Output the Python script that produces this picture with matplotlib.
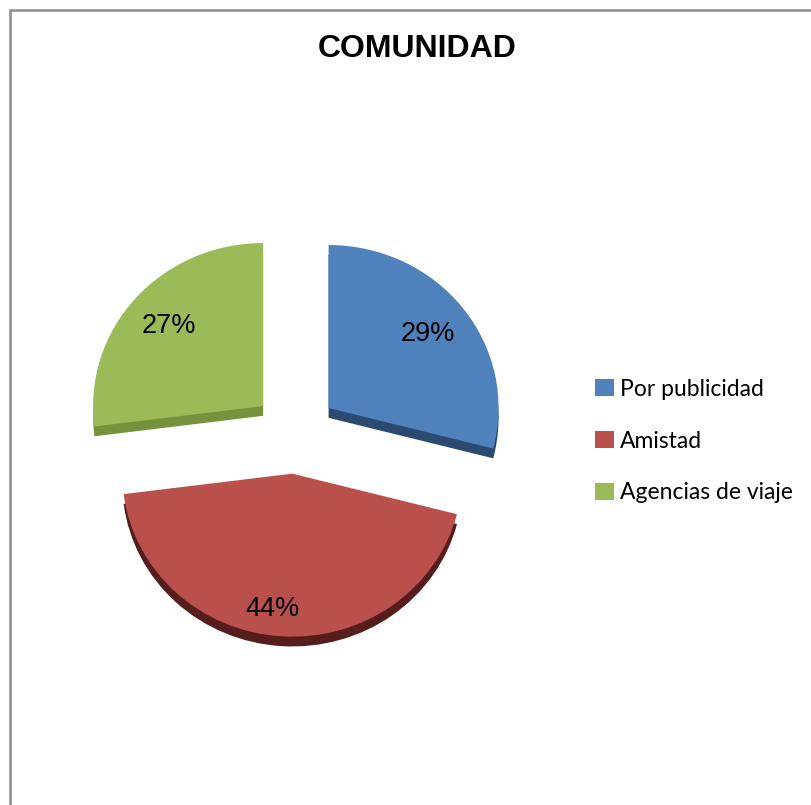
import matplotlib
matplotlib.use('Agg')
import matplotlib.pyplot as plt
from matplotlib.patches import Rectangle, Patch

# Datos
categorias = ['Por publicidad', 'Amistad', 'Agencias de viaje']
porcentajes = [29, 44, 27]
colores = ['#4f81bd', '#ba504c', '#9bbb59']
colores_lado = ['#2c4a70', '#551d1b', '#76923c']
titulo = 'COMUNIDAD'

W, H = 811, 805
fig = plt.figure(figsize=(W / 100, H / 100), dpi=100)
fig.patch.set_facecolor('white')

# marco del gráfico (solo se ven los lados superior e izquierdo)
fig.patches.append(Rectangle((10 / W, -0.5), 1.5, 1.5 - 10 / H, transform=fig.transFigure,
                             fill=False, edgecolor='#8c8c8c', linewidth=1.8))

# ejes: 1 unidad = 170 px en x, 163 px en y (pastel ligeramente inclinado)
cx, cy, rx, ry = 295, 433, 170, 163
ax = fig.add_axes([(cx - 1.5 * rx) / W, (H - cy - 1.5 * ry) / H, 3 * rx / W, 3 * ry / H])

explode = [0.25, 0.25, 0.25]

# lado "3D": el mismo pastel más oscuro desplazado hacia abajo
ax.pie(porcentajes, explode=explode, colors=colores_lado, startangle=90,
       counterclock=False, center=(0, -0.06), wedgeprops=dict(linewidth=0))

wedges, textos, autotextos = ax.pie(
    porcentajes, explode=explode, colors=colores, startangle=90, counterclock=False,
    autopct='%1.0f%%', pctdistance=0.74, wedgeprops=dict(linewidth=0),
    textprops=dict(fontsize=19.5, family='Liberation Sans', color='black'))

# la etiqueta de "Amistad" queda algo más abajo y a la izquierda
x, y = autotextos[1].get_position()
autotextos[1].set_position((x - 0.07, y - 0.09))

ax.set_aspect('auto')
ax.set_xlim(-1.5, 1.5)
ax.set_ylim(-1.5, 1.5)
ax.axis('off')

fig.text(417 / W, 1 - 49 / H, titulo, ha='center', va='center', fontsize=23,
         fontweight='bold', family='Liberation Sans')

handles = [Patch(facecolor=c, edgecolor='none') for c in colores]
fig.legend(handles, categorias, loc='center left', bbox_to_anchor=(584 / W, 1 - 441 / H),
           frameon=False, prop=dict(family='Lato', size=16.5), handlelength=0.8,
           handleheight=0.8, handletextpad=0.25, labelspacing=1.35, borderpad=0)

fig.savefig('out.png', dpi=100, facecolor='white')
